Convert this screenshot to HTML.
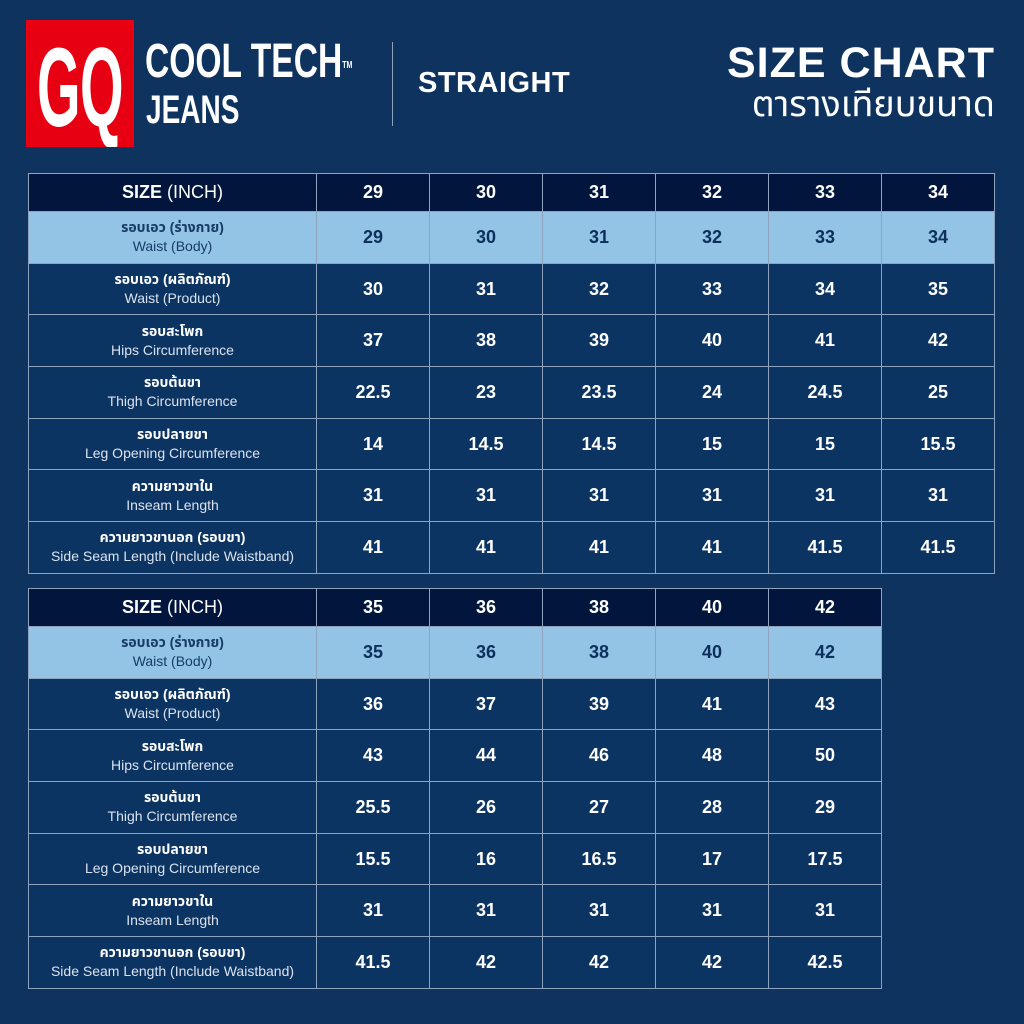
<!DOCTYPE html>
<html><head><meta charset="utf-8">
<style>
body{margin:0;width:1024px;height:1024px;background:#0e335e;position:relative;overflow:hidden;font-family:"Liberation Sans","Noto Sans Thai","Loma","DejaVu Sans",sans-serif;color:#fff}
.logo{position:absolute;left:26px;top:20px;width:108px;height:127px;background:#e60012;overflow:hidden}
.logo span{position:absolute;left:11px;top:12px;color:#fff;font:bold 112px/112px "Liberation Sans Narrow","Liberation Sans",sans-serif;letter-spacing:-1px;transform:scaleX(0.5);transform-origin:left;white-space:nowrap}
.ct{position:absolute;left:145px;top:36px;font:bold 48px/52px "Liberation Sans Narrow","Liberation Sans",sans-serif;transform:scaleX(0.7);transform-origin:left;white-space:nowrap}
.ct sup{font-size:10px;vertical-align:top;position:relative;top:4px}
.jn{position:absolute;left:146px;top:90px;font:bold 40px/40px "Liberation Sans Narrow","Liberation Sans",sans-serif;transform:scaleX(0.7);transform-origin:left}
.div{position:absolute;left:392px;top:42px;width:1px;height:84px;background:#8fa3bd}
.st{position:absolute;left:418px;top:66px;font:bold 29px/34px "Liberation Sans",sans-serif;letter-spacing:0.5px}
.sc{position:absolute;right:29px;top:39px;font:bold 43px/48px "Liberation Sans",sans-serif;letter-spacing:1px}
.th{position:absolute;right:29px;top:84px;font:36px/40px "Liberation Sans","Noto Sans Thai","Loma",sans-serif}
table{position:absolute;left:28px;border-collapse:collapse;table-layout:fixed}
td{border:1.5px solid #8fa3bd;text-align:center;padding:0;font-weight:bold;font-size:18px}
td.l{width:287px;font-weight:normal;font-size:14px;line-height:19px}
td.l b{font-weight:bold}
td.n{width:112px}
tr.h td{background:#02163d;height:37px;font-size:18px}
tr.h td.l{font-size:18px;font-weight:bold}
tr.h td.l span{font-weight:normal}
tr.r td{height:50.7px;background:#0c3462}
tr.b td{background:#93c4e5;color:#0d2f5b}
tr.b td.l{color:#173b66}
.sub{color:#dbe3ee}
</style></head><body>
<div class="logo"><span>GQ</span></div>
<div class="ct">COOL TECH<sup>TM</sup></div>
<div class="jn">JEANS</div>
<div class="div"></div>
<div class="st">STRAIGHT</div>
<div class="sc">SIZE CHART</div>
<div class="th">ตารางเทียบขนาด</div>

<table style="top:173px">
<tr class="h"><td class="l">SIZE <span>(INCH)</span></td><td class="n">29</td><td class="n">30</td><td class="n">31</td><td class="n">32</td><td class="n">33</td><td class="n">34</td></tr>
<tr class="r b"><td class="l"><b>รอบเอว (ร่างกาย)</b><br>Waist (Body)</td><td>29</td><td>30</td><td>31</td><td>32</td><td>33</td><td>34</td></tr>
<tr class="r"><td class="l"><b>รอบเอว (ผลิตภัณฑ์)</b><br><span class="sub">Waist (Product)</span></td><td>30</td><td>31</td><td>32</td><td>33</td><td>34</td><td>35</td></tr>
<tr class="r"><td class="l"><b>รอบสะโพก</b><br><span class="sub">Hips Circumference</span></td><td>37</td><td>38</td><td>39</td><td>40</td><td>41</td><td>42</td></tr>
<tr class="r"><td class="l"><b>รอบต้นขา</b><br><span class="sub">Thigh Circumference</span></td><td>22.5</td><td>23</td><td>23.5</td><td>24</td><td>24.5</td><td>25</td></tr>
<tr class="r"><td class="l"><b>รอบปลายขา</b><br><span class="sub">Leg Opening Circumference</span></td><td>14</td><td>14.5</td><td>14.5</td><td>15</td><td>15</td><td>15.5</td></tr>
<tr class="r"><td class="l"><b>ความยาวขาใน</b><br><span class="sub">Inseam Length</span></td><td>31</td><td>31</td><td>31</td><td>31</td><td>31</td><td>31</td></tr>
<tr class="r"><td class="l"><b>ความยาวขานอก (รอบขา)</b><br><span class="sub">Side Seam Length (Include Waistband)</span></td><td>41</td><td>41</td><td>41</td><td>41</td><td>41.5</td><td>41.5</td></tr>
</table>

<table style="top:588px">
<tr class="h"><td class="l">SIZE <span>(INCH)</span></td><td class="n">35</td><td class="n">36</td><td class="n">38</td><td class="n">40</td><td class="n">42</td></tr>
<tr class="r b"><td class="l"><b>รอบเอว (ร่างกาย)</b><br>Waist (Body)</td><td>35</td><td>36</td><td>38</td><td>40</td><td>42</td></tr>
<tr class="r"><td class="l"><b>รอบเอว (ผลิตภัณฑ์)</b><br><span class="sub">Waist (Product)</span></td><td>36</td><td>37</td><td>39</td><td>41</td><td>43</td></tr>
<tr class="r"><td class="l"><b>รอบสะโพก</b><br><span class="sub">Hips Circumference</span></td><td>43</td><td>44</td><td>46</td><td>48</td><td>50</td></tr>
<tr class="r"><td class="l"><b>รอบต้นขา</b><br><span class="sub">Thigh Circumference</span></td><td>25.5</td><td>26</td><td>27</td><td>28</td><td>29</td></tr>
<tr class="r"><td class="l"><b>รอบปลายขา</b><br><span class="sub">Leg Opening Circumference</span></td><td>15.5</td><td>16</td><td>16.5</td><td>17</td><td>17.5</td></tr>
<tr class="r"><td class="l"><b>ความยาวขาใน</b><br><span class="sub">Inseam Length</span></td><td>31</td><td>31</td><td>31</td><td>31</td><td>31</td></tr>
<tr class="r"><td class="l"><b>ความยาวขานอก (รอบขา)</b><br><span class="sub">Side Seam Length (Include Waistband)</span></td><td>41.5</td><td>42</td><td>42</td><td>42</td><td>42.5</td></tr>
</table>
</body></html>
